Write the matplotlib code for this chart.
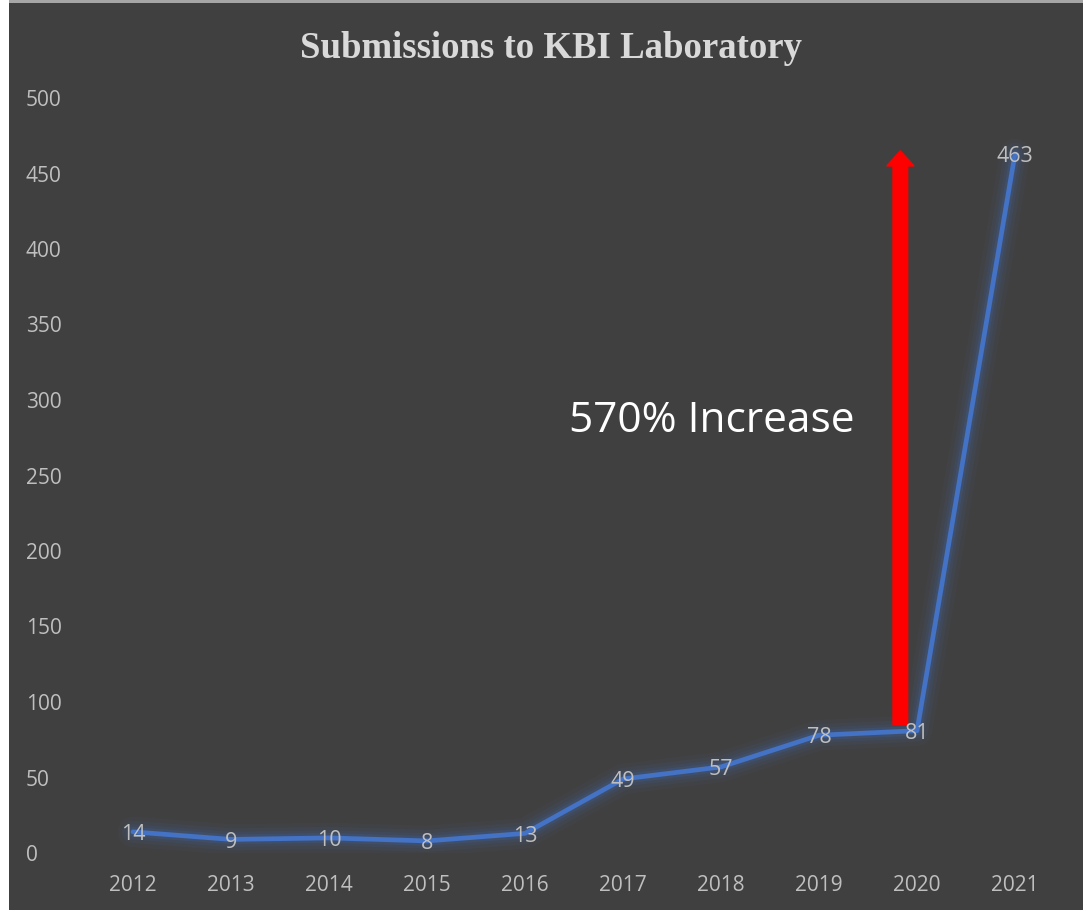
import matplotlib.pyplot as plt
from matplotlib.patches import Rectangle, FancyArrow

years = ["2012", "2013", "2014", "2015", "2016", "2017", "2018", "2019", "2020", "2021"]
submissions = [14, 9, 10, 8, 13, 49, 57, 78, 81, 463]
y_ticks = [0, 50, 100, 150, 200, 250, 300, 350, 400, 450, 500]

bg = "#404040"
line_color = "#4472C4"
label_color = "#bfbfbf"

fig = plt.figure(figsize=(10.83, 9.10), dpi=100, facecolor=bg)
# thin white strip on the left and gray line on top, as in the screenshot
fig.patches.append(Rectangle((0, 0), 9 / 1083, 1, transform=fig.transFigure,
                             facecolor="white", edgecolor="none", zorder=-1))
fig.patches.append(Rectangle((9 / 1083, 1 - 3 / 910), 1, 3 / 910,
                             transform=fig.transFigure, facecolor="#a6a6a6",
                             edgecolor="none", zorder=-1))

# plot area: y 0 -> px 853, 500 -> px 98; x categories 2012 at 133, 2021 at 1015
left, right = 84 / 1083, 1064 / 1083
bottom, top = 1 - 853 / 910, 1 - 98 / 910
ax = fig.add_axes([left, bottom, right - left, top - bottom])
ax.set_facecolor("none")
ax.set_zorder(1)

x = list(range(len(years)))

# soft glow around the line
for w, a in [(22, 0.05), (16, 0.07), (11, 0.10), (7, 0.15)]:
    ax.plot(x, submissions, color=line_color, lw=w, alpha=a,
            solid_capstyle="round", solid_joinstyle="round", zorder=2)
ax.plot(x, submissions, color=line_color, lw=3.4,
        solid_capstyle="round", solid_joinstyle="round", zorder=3)

for xi, v in zip(x, submissions):
    ax.annotate(str(v), (xi, v), xytext=(0, -2), textcoords="offset points",
                ha="center", va="center", color=label_color,
                fontsize=15.5, family="Open Sans", zorder=4)

# red arrow showing the jump from 2020 to 2021
ax.add_patch(FancyArrow(7.83, 85, 0, 380, width=0.15, head_width=0.28,
                        head_length=10, length_includes_head=True,
                        color="red", zorder=3))
ax.text(5.91, 286, "570% Increase", ha="center", va="center",
        color="white", fontsize=30.5, family="Open Sans")

ax.set_xlim(-0.5, len(years) - 0.5)
ax.set_ylim(0, 500)
ax.set_xticks(x)
ax.set_xticklabels(years)
ax.set_yticks(y_ticks)
ax.tick_params(colors=label_color, labelsize=15, length=0)
ax.tick_params(axis="x", pad=16)
ax.tick_params(axis="y", pad=42)
for lab in ax.get_xticklabels() + ax.get_yticklabels():
    lab.set_family("Open Sans")
for lab in ax.get_yticklabels():
    lab.set_horizontalalignment("left")
for s in ax.spines.values():
    s.set_visible(False)

fig.text(551 / 1083, 1 - 48 / 910, "Submissions to KBI Laboratory",
         ha="center", va="center", color="#d9d9d9", fontsize=26.5,
         fontweight="bold", family="Liberation Serif")

fig.savefig("out.png", dpi=100, facecolor=bg)
